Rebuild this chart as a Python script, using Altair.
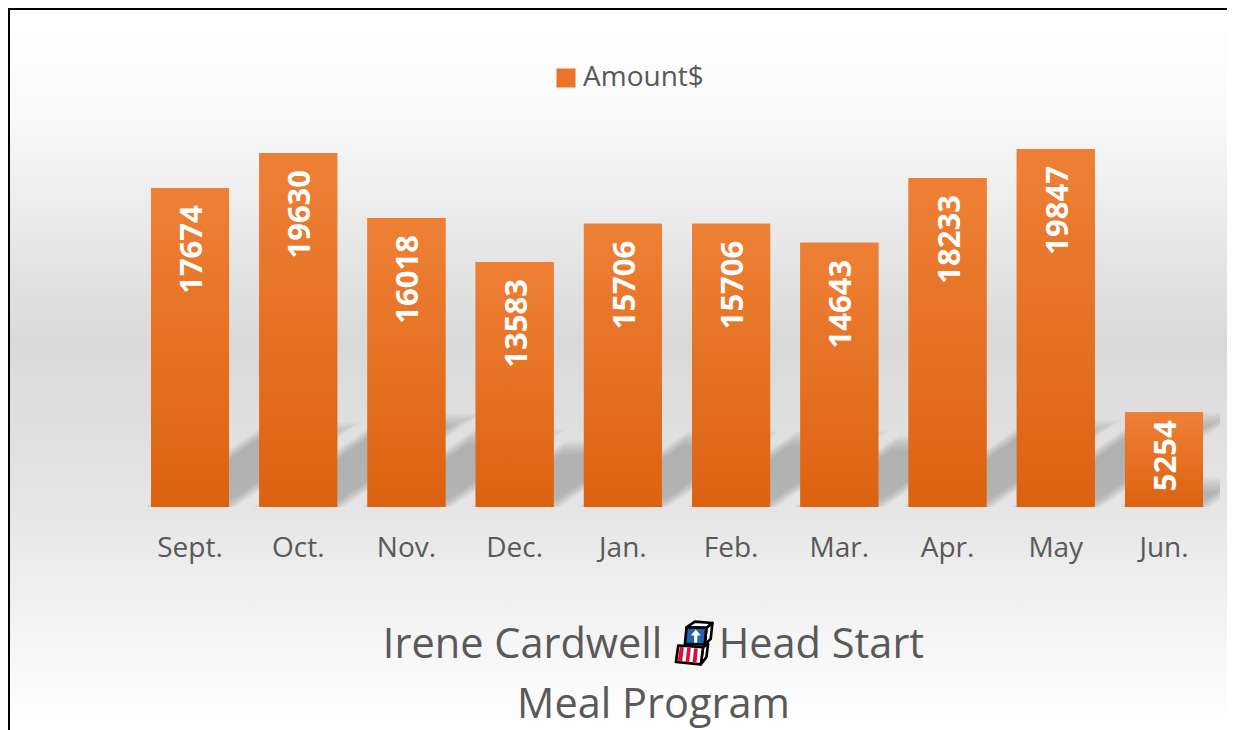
import urllib.parse
import altair as alt
import pandas as pd

months = ["Sept.", "Oct.", "Nov.", "Dec.", "Jan.", "Feb.", "Mar.", "Apr.", "May", "Jun."]
amounts = [17674, 19630, 16018, 13583, 15706, 15706, 14643, 18233, 19847, 5254]
series_name = "Amount$"
title_lines = ["Irene Cardwell \u2003\u200aHead Start", "Meal Program"]
FONT = "Open Sans"

W, H = 1219, 722
X0, X1 = 143, 1195          # left edge of first bar, right edge of last bar
Y0, YT = 499, 141           # pixel row of 0 and of the largest value
V_MAX = 19847
STEP = (X1 - X0 - 78) / 9
BW = 78 / STEP              # bar width in slot units
PX_V = (Y0 - YT) / V_MAX    # pixels per unit of value
SLOPE = 0.68 * STEP / PX_V  # value per slot along the cast shadow
SHADOW_K = 0.245
CLIP = (1220 - 151) / STEP
BLUR_STEPS = [-8, -6.5, -5, -3.5, -2, -0.5, 1, 2.5, 4, 5.5, 7]

df = pd.DataFrame({"month": months, "amount": amounts, "series": series_name})

rows = []
for i, v in enumerate(amounts):
    for k, e_px in enumerate(BLUR_STEPS):
        e = e_px / STEP
        ev = e_px / PX_V
        floor = max(0, -ev)
        top = v * SHADOW_K + ev
        L, R = i - e, i + BW + e
        up = lambda x: min(SLOPE * (x - L), top)
        low = lambda x: max(floor, SLOPE * (x - R))
        xs = sorted({L + floor / SLOPE, L + top / SLOPE, R + floor / SLOPE, R + top / SLOPE, CLIP})
        xs = [x for x in xs if L + floor / SLOPE <= x <= min(CLIP, R + top / SLOPE)]
        for x in xs:
            rows.append({"id": f"{i}-{k}", "sx": x, "lo": low(x), "hi": up(x)})
shadow_df = pd.DataFrame(rows)

bg_gradient = alt.LinearGradient(
    gradient="linear", x1=0, x2=0, y1=0, y2=1,
    stops=[
        alt.GradientStop(offset=0, color="#ffffff"),
        alt.GradientStop(offset=0.13, color="#fafafa"),
        alt.GradientStop(offset=0.425, color="#d9d9d9"),
        alt.GradientStop(offset=0.646, color="#e6e6e6"),
        alt.GradientStop(offset=0.794, color="#f4f4f4"),
        alt.GradientStop(offset=0.92, color="#ffffff"),
        alt.GradientStop(offset=1, color="#ffffff"),
    ],
)
bar_gradient = alt.LinearGradient(
    gradient="linear", x1=0, x2=0, y1=0, y2=1,
    stops=[
        alt.GradientStop(offset=0, color="#ee8036"),
        alt.GradientStop(offset=1, color="#dc6210"),
    ],
)

y_scale = alt.Scale(domain=[0, V_MAX], range=[Y0, YT], nice=False, zero=True)
x_band = alt.Scale(type="band", domain=months, range=[X0, X1], paddingInner=0.279, paddingOuter=0)
x_axis = alt.Axis(
    title=None, domain=False, ticks=False, labelFont=FONT, labelFontSize=28,
    labelColor="#595959", labelPadding=41, offset=Y0 - H, labelAngle=0,
    labelBaseline="middle", zindex=1,
)

one = pd.DataFrame({"a": [0]})
background = alt.Chart(one).mark_rect(
    color=bg_gradient, stroke="#000000", strokeWidth=2
).encode(
    x=alt.value(1), x2=alt.value(W + 60), y=alt.value(1), y2=alt.value(H + 60)
)

shadows = alt.Chart(shadow_df).mark_area(color="#000000", opacity=0.02).encode(
    x=alt.X("sx:Q", axis=None, scale=alt.Scale(domain=[0, 9 + BW], range=[X0, X1], nice=False, zero=False)),
    y=alt.Y("lo:Q", axis=None, scale=y_scale, stack=None),
    y2="hi:Q",
    detail="id:N",
)

legend_bars = alt.Chart(df).mark_bar().encode(
    x=alt.X("month:N", sort=months, scale=x_band, axis=x_axis),
    y=alt.Y("amount:Q", axis=None, scale=y_scale, stack=None),
    color=alt.Color(
        "series:N",
        scale=alt.Scale(domain=[series_name], range=["#e8742a"]),
        legend=alt.Legend(
            title=None, orient="none", legendX=544, legendY=56, symbolType="square",
            symbolSize=361, symbolStrokeWidth=0, labelFont=FONT, labelFontSize=28,
            labelColor="#595959", labelOffset=3,
        ),
    ),
)

bars = alt.Chart(df).mark_bar(color=bar_gradient).encode(
    x=alt.X("month:N", sort=months, scale=x_band, axis=None),
    y=alt.Y("amount:Q", axis=None, scale=y_scale, stack=None),
)

def label_layer(test, inset):
    return alt.Chart(df).transform_filter(test).mark_text(
        angle=270, align="right", baseline="middle", dx=-inset, dy=3, color="#ffffff",
        font=FONT, fontWeight="bold", fontSize=31,
    ).encode(
        x=alt.X("month:N", sort=months, scale=x_band, axis=None),
        y=alt.Y("amount:Q", axis=None, scale=y_scale, stack=None),
        text="amount:Q",
    )

labels_tall = label_layer("datum.amount >= 10000", 17)
labels_short = label_layer("datum.amount < 10000", 8)

icon_svg = (
    '<svg xmlns="http://www.w3.org/2000/svg" viewBox="100 60 125 145">'
    '<g stroke="#000" stroke-width="8" stroke-linejoin="round">'
    '<polygon points="140,85 165,68 218,72 200,87" fill="#fff"/>'
    '<polygon points="200,87 218,72 213,120 195,137" fill="#fff"/>'
    '<polygon points="140,85 200,87 195,137 135,135" fill="#1f66ad"/>'
    '<polygon points="190,145 205,135 200,175 183,197" fill="#fff"/>'
    '<polygon points="115,140 190,145 183,197 108,190" fill="#fff"/>'
    '</g>'
    '<polygon points="120,144 132,145 127,187 113,186" fill="#d6103a"/>'
    '<polygon points="142,146 153,147 148,190 137,189" fill="#d6103a"/>'
    '<polygon points="163,148 174,149 170,192 158,191" fill="#d6103a"/>'
    '<polygon points="168,92 183,110 173,110 172,132 163,132 163,110 153,110" fill="#fff"/>'
    '</svg>'
)
icon = alt.Chart(one).mark_image(
    url="data:image/svg+xml," + urllib.parse.quote(icon_svg),
    width=42, height=48, align="left", baseline="top",
).encode(x=alt.value(665), y=alt.value(611))

chart = alt.layer(background, shadows, legend_bars, bars, labels_tall, labels_short, icon).resolve_scale(
    x="independent"
).properties(
    width=W, height=H, padding=0, autosize=alt.AutoSizeParams(type="none"),
    title=alt.TitleParams(
        text=title_lines, orient="bottom", anchor="middle", dx=36, dy=-170,
        font=FONT, fontSize=41.5, fontWeight="normal", color="#595959", lineHeight=60,
    ),
).configure_view(stroke=None)

chart.save("out.html", embed_options={"renderer": "svg", "actions": False})
